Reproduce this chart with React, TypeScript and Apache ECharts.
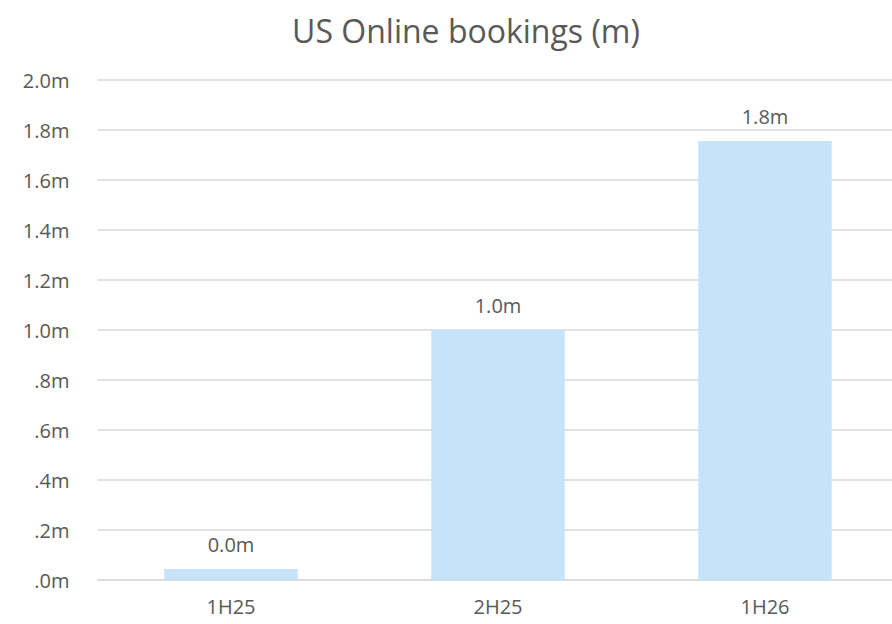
import React, { useEffect, useRef } from "react";
import * as echarts from "echarts";

const title = "US Online bookings (m)";
const categories = ["1H25", "2H25", "1H26"];
const bookings = [0.044, 1.0, 1.756];
const yMin = 0;
const yMax = 2.0;
const yInterval = 0.2;

const FONT = "Open Sans";
const TEXT = "#595959";

function fmtAxis(v: number): string {
  const s = v.toFixed(1);
  return (s.startsWith("0") ? s.slice(1) : s) + "m";
}

export default function App() {
  const ref = useRef<HTMLDivElement>(null);
  useEffect(() => {
    if (!ref.current) return;
    const chart = echarts.init(ref.current, undefined, { renderer: "svg" });
    chart.setOption({
      animation: false,
      backgroundColor: "#ffffff",
      title: {
        text: title,
        left: 461,
        top: 9,
        textAlign: "center",
        textStyle: { fontFamily: FONT, fontSize: 32, fontWeight: "normal", color: TEXT },
      },
      grid: { left: 97.5, right: 1.5, top: 80, bottom: 44, containLabel: false },
      xAxis: {
        type: "category",
        data: categories,
        axisLine: { show: true, lineStyle: { color: "#d9d9d9", width: 1.5 } },
        axisTick: { show: false },
        axisLabel: { color: TEXT, fontFamily: FONT, fontSize: 20, margin: 16 },
      },
      yAxis: {
        type: "value",
        min: yMin,
        max: yMax,
        interval: yInterval,
        axisLine: { show: false },
        axisTick: { show: false },
        splitLine: { lineStyle: { color: "#d9d9d9", width: 1.5 } },
        axisLabel: {
          color: TEXT,
          fontFamily: FONT,
          fontSize: 20,
          margin: 28,
          formatter: (v: number) => fmtAxis(v),
        },
      },
      series: [
        {
          type: "bar",
          data: bookings,
          barWidth: "50%",
          itemStyle: { color: "#c5e4fc" },
          label: {
            show: true,
            position: "top",
            distance: 15,
            color: TEXT,
            fontFamily: FONT,
            fontSize: 20,
            formatter: (p: any) => (p.value as number).toFixed(1) + "m",
          },
        },
      ],
    });
    return () => chart.dispose();
  }, []);
  return (
    <div
      ref={ref}
      style={{ position: "absolute", left: 0, top: 0, width: 900, height: 624 }}
    />
  );
}
